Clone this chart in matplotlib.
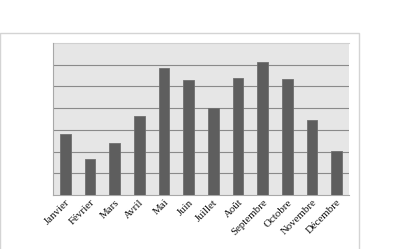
import matplotlib.pyplot as plt
from matplotlib.patches import Rectangle

# Monthly values (no y scale shown, read in gridline units x10)
mois = ['Janvier', 'Février', 'Mars', 'Avril', 'Mai', 'Juin', 'Juillet',
        'Août', 'Septembre', 'Octobre', 'Novembre', 'Décembre']
valeurs = [28.2, 16.5, 24.0, 36.5, 58.6, 52.9, 40.2, 53.7, 61.4, 53.2, 34.6, 20.3]

fig = plt.figure(figsize=(3.98, 2.49), dpi=100)
fig.patch.set_facecolor('white')

# light frame around the chart
fig.patches.append(Rectangle((0.0, -0.01), 359 / 398, (249 - 33) / 249 + 0.01,
                             transform=fig.transFigure, fill=False,
                             edgecolor='#d4d4d4', linewidth=1.0))

ax = fig.add_axes([53 / 398, 54 / 249, 296 / 398, 152 / 249])
ax.set_facecolor('#e6e6e6')

x = range(len(mois))
ax.bar(x, valeurs, width=0.42, color='#5e5e5e', edgecolor='#707070',
       linewidth=0.6, zorder=3)

ax.set_xlim(-0.5, len(mois) - 0.5)
ax.set_ylim(0, 70)
ax.set_yticks(range(10, 70, 10))
ax.yaxis.grid(True, color='#8a8a8a', linewidth=0.8, zorder=0)
ax.tick_params(axis='y', left=False, labelleft=False)
ax.tick_params(axis='x', length=0, pad=2)

ax.set_xticks(list(x))
ax.set_xticklabels(mois, rotation=45, ha='right', rotation_mode='anchor',
                   fontsize=7.8, family='Liberation Serif', color='#111111')

for side in ['top', 'right']:
    ax.spines[side].set_visible(False)
ax.spines['left'].set_color('#a8a8a8')
ax.spines['bottom'].set_color('#a8a8a8')
ax.plot([-0.5, len(mois) - 0.5], [70, 70], color='#d0d0d0', linewidth=0.8,
        clip_on=False, zorder=1)

fig.savefig('out.png', dpi=100)
